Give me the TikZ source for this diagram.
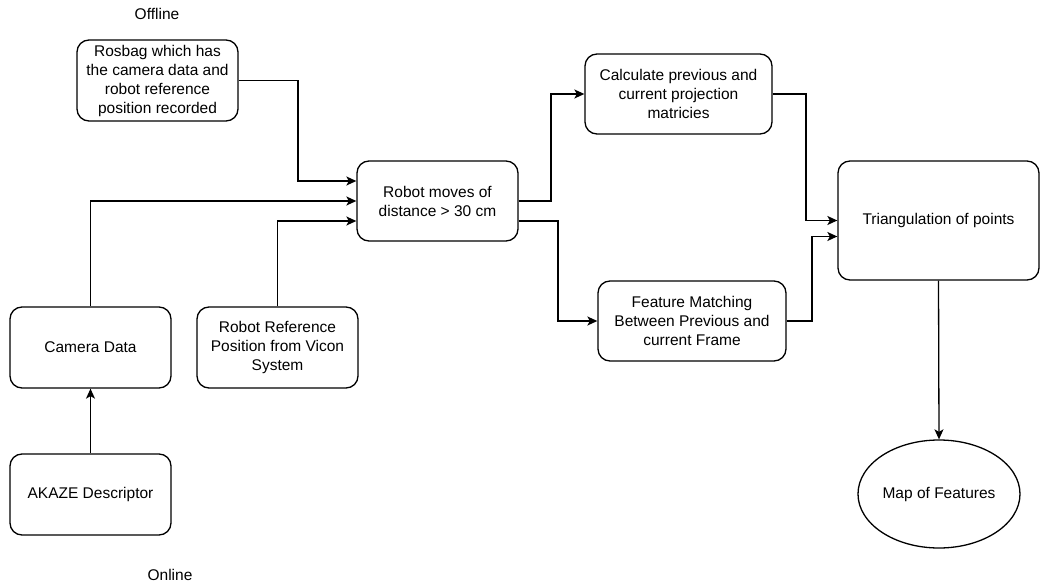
\documentclass[tikz,border=0pt]{standalone}
\usepackage{fontspec}
\setmainfont{Liberation Sans}
\usetikzlibrary{arrows.meta,shapes.geometric}
\begin{document}
\begin{tikzpicture}[x=1pt,y=-1pt,
  box/.style={draw, line width=1.3pt, rounded corners=12pt, align=center,
    inner sep=2pt, font=\fontsize{15.5}{19}\selectfont},
  oval/.style={draw, line width=1.3pt, ellipse, inner sep=0pt, align=center,
    font=\fontsize{15.5}{19}\selectfont},
  lbl/.style={font=\fontsize{15.5}{19}\selectfont},
  arr/.style={line width=1.3pt, -{Stealth[length=10pt,width=9pt,inset=2.5pt]}},
  ln/.style={line width=1.3pt}]
\useasboundingbox (0,0) rectangle (1047,588);

% labels
\node[lbl] (offline) at (157,14) {Offline};
\node[lbl] (online) at (170,575) {Online};

% process boxes
\node[box, minimum width=161pt, minimum height=81pt] (rosbag) at (157.5,80.5)
  {Rosbag which has\\the camera data and\\robot reference\\position recorded};
\node[box, minimum width=161pt, minimum height=80pt] (moves) at (437.5,201)
  {Robot moves of\\distance > 30 cm};
\node[box, minimum width=187pt, minimum height=80pt] (calc) at (678.5,94)
  {Calculate previous and\\current projection\\matricies};
\node[box, minimum width=188pt, minimum height=80pt] (feat) at (692,321)
  {Feature Matching\\Between Previous and\\current Frame};
\node[box, minimum width=201pt, minimum height=119pt] (tri) at (938.5,220.5)
  {Triangulation of points};
\node[box, minimum width=161pt, minimum height=81pt] (cam) at (90.5,347.5)
  {Camera Data};
\node[box, minimum width=161pt, minimum height=81pt] (ref) at (277.5,347.5)
  {Robot Reference\\Position from Vicon\\System};
\node[box, minimum width=161pt, minimum height=81pt] (akaze) at (90.5,494.5)
  {AKAZE Descriptor};
\node[oval, minimum width=162pt, minimum height=108pt] (map) at (939,494)
  {Map of Features};

% connectors
\coordinate (r1) at (298,80.5);
\draw[arr] (rosbag.east) -- (r1) |- ([yshift=20pt]moves.west);
\draw[arr] (cam.north) |- (moves.west);
\draw[arr] (ref.north) |- ([yshift=-20pt]moves.west);

\coordinate (m1) at (551,201);
\coordinate (m2) at (558,221);
\draw[arr] (moves.east) -- (m1) |- (calc.west);
\draw[arr] ([yshift=-20pt]moves.east) -- (m2) |- (feat.west);

\coordinate (c1) at (806,94);
\coordinate (f1) at (812,321);
\draw[arr] (calc.east) -- (c1) |- (tri.west);
\draw[arr] (feat.east) -- (f1) |- ([yshift=-16pt]tri.west);

\draw[arr] (tri.south) -- (map.north);
\draw[arr] (akaze.north) -- (cam.south);
\end{tikzpicture}
\end{document}
